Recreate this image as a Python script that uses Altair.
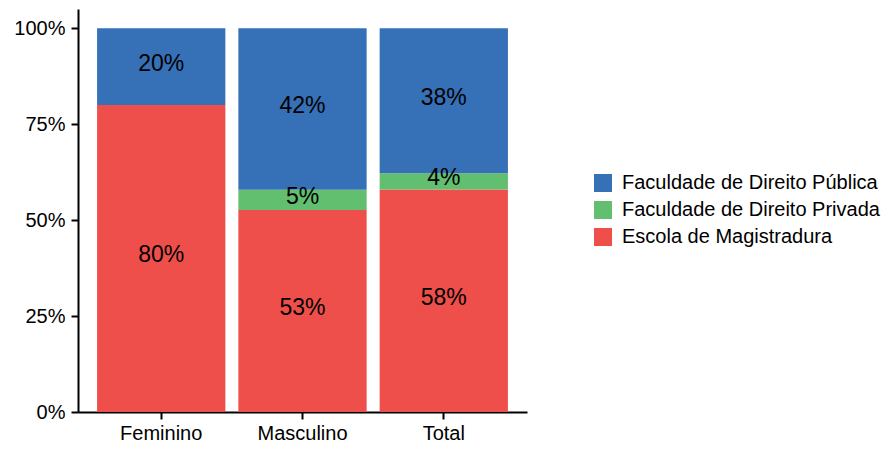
import altair as alt
import pandas as pd

groups = ["Feminino", "Masculino", "Total"]
categories = ["Escola de Magistradura", "Faculdade de Direito Privada", "Faculdade de Direito Pública"]
magistradura = [80.0, 52.6, 58.0]
privada = [0.0, 5.3, 4.2]
publica = [20.0, 42.1, 37.8]
colors = ["#EF4F4A", "#62BF6F", "#3670B7"]
legend_order = ["Faculdade de Direito Pública", "Faculdade de Direito Privada", "Escola de Magistradura"]

rows = []
for i, g in enumerate(groups):
    for k, (cat, vals) in enumerate(zip(categories, [magistradura, privada, publica])):
        rows.append({"grupo": g, "cat": cat, "ordem": k, "valor": vals[i] / 100.0})
df = pd.DataFrame(rows)

FONT = "Liberation Sans"

base = alt.Chart(df).transform_stack(
    stack="valor", groupby=["grupo"], as_=["y0", "y1"], sort=[alt.SortField("ordem", "ascending")]
).transform_calculate(mid="(datum.y0 + datum.y1) / 2").transform_filter("datum.valor > 0")

bars = base.mark_bar(stroke=None).encode(
    x=alt.X("grupo:N", sort=groups, title=None,
            scale=alt.Scale(paddingInner=0.092, paddingOuter=0.135),
            axis=alt.Axis(labelAngle=0, labelFont=FONT, labelFontSize=20, labelColor="black",
                          domainColor="black", domainWidth=2, tickColor="black", tickWidth=2,
                          tickSize=7, labelPadding=4)),
    y=alt.Y("y0:Q", title=None,
            scale=alt.Scale(domain=[0, 1.05], nice=False),
            axis=alt.Axis(values=[0, 0.25, 0.5, 0.75, 1.0], format=".0%", grid=False,
                          labelFont=FONT, labelFontSize=20, labelColor="black",
                          domainColor="black", domainWidth=2, tickColor="black", tickWidth=2,
                          tickSize=7, labelPadding=6)),
    y2="y1:Q",
    color=alt.Color("cat:N", title=None,
                    scale=alt.Scale(domain=categories, range=colors),
                    sort=legend_order,
                    legend=alt.Legend(orient="none", legendX=515, legendY=164,
                                      symbolType="square", symbolSize=324, symbolStrokeWidth=0,
                                      labelFont=FONT, labelFontSize=20, labelColor="black",
                                      labelOffset=9, rowPadding=7, labelLimit=400,
                                      values=legend_order)),
)

labels = base.mark_text(
    font=FONT, fontSize=23, color="black", baseline="middle", dy=-3
).encode(
    x=alt.X("grupo:N", sort=groups),
    y=alt.Y("mid:Q"),
    text=alt.Text("valor:Q", format=".0%"),
)

chart = alt.layer(bars, labels).properties(
    width=449, height=403,
    autosize=alt.AutoSizeParams(type="none"),
    padding={"left": 70, "top": 1, "right": 360, "bottom": 32},
).configure_view(stroke=None)

chart.save("out.html", embed_options={"renderer": "svg", "actions": False})
